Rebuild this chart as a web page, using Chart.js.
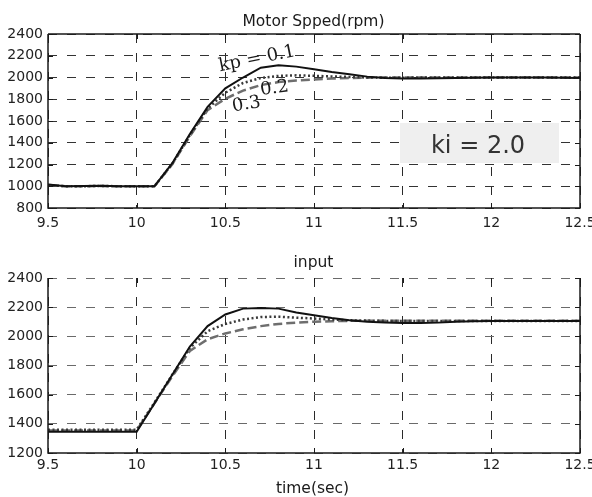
<!DOCTYPE html>
<html><head><meta charset="utf-8">
<script src="https://cdn.jsdelivr.net/npm/chart.js@4"></script>
<style>
html,body{margin:0;padding:0;background:#fff;overflow:hidden;}
#w1{position:absolute;left:0;top:0;width:592px;height:250px;}
#w2{position:absolute;left:0;top:250px;width:592px;height:247px;}
</style></head><body>
<div id="w1"><canvas id="c1"></canvas></div>
<div id="w2"><canvas id="c2"></canvas></div>
<script>
// ---- data ----
const timeSec = [9.5,9.6,9.7,9.8,9.9,10.0,10.1,10.2,10.3,10.4,10.5,10.6,10.7,10.8,10.9,11.0,11.1,11.2,11.3,11.4,11.5,11.6,11.7,11.8,11.9,12.0,12.1,12.2,12.3,12.4,12.5];
const xTickValues = [9.5,10,10.5,11,11.5,12,12.5];
const speedTickValues = [800,1000,1200,1400,1600,1800,2000,2200,2400];
const inputTickValues = [1200,1400,1600,1800,2000,2200,2400];

const speedKp01 = [1015,1000,1002,1005,1000,1000,1000,1210,1480,1730,1900,2000,2090,2112,2100,2075,2050,2030,2008,1995,1990,1990,1992,1995,1998,2000,2000,2000,2000,1998,1996];
const speedKp02 = [1010,1000,1000,1003,1000,1000,1000,1205,1470,1715,1860,1950,1995,2015,2020,2015,2010,2005,2000,1998,1998,2000,2000,2000,2000,2000,2000,2000,2000,2000,2000];
const speedKp03 = [1012,1000,1000,1002,1000,1000,1000,1200,1460,1700,1805,1880,1930,1958,1972,1982,1990,1995,1998,2000,2000,2000,2000,2000,2000,2000,2000,2000,2000,2000,2000];

const inputKp01 = [1345,1345,1345,1345,1345,1345,1540,1735,1930,2070,2150,2190,2195,2190,2163,2145,2125,2110,2100,2095,2092,2092,2094,2100,2103,2105,2105,2105,2105,2105,2105];
const inputKp02 = [1360,1360,1360,1360,1360,1360,1545,1735,1920,2035,2085,2115,2132,2135,2128,2122,2115,2110,2108,2106,2106,2106,2106,2106,2106,2106,2106,2106,2106,2106,2106];
const inputKp03 = [1355,1355,1355,1355,1355,1355,1540,1725,1900,1980,2020,2048,2070,2085,2094,2100,2104,2106,2107,2107,2107,2107,2107,2107,2107,2107,2107,2107,2107,2107,2107];

const seriesNames = ['kp = 0.1','kp = 0.2','kp = 0.3'];
const curveLabels = ['kp = 0.1','0.2','0.3'];
const kiLabel = 'ki = 2.0';
const topTitle = 'Motor Spped(rpm)';
const bottomTitle = 'input';
const xAxisTitle = 'time(sec)';

// ---- helpers ----
const pts = (ys) => timeSec.map((t, i) => ({x: t, y: ys[i]}));
const lineStyles = [
  {borderColor: '#111', borderWidth: 2, borderDash: []},
  {borderColor: '#3a3a3a', borderWidth: 2.5, borderDash: [2, 2.5]},
  {borderColor: '#6e6e6e', borderWidth: 2.5, borderDash: [9, 4]}
];
function makeDatasets(list) {
  return list.map((ys, i) => Object.assign({
    label: seriesNames[i], data: pts(ys), pointRadius: 0, tension: 0, fill: false
  }, lineStyles[i]));
}

const tickFont = {family: 'DejaVu Sans', size: 14};

const decor = {
  id: 'decor',
  beforeDatasetsDraw(chart, args, o) {
    const ctx = chart.ctx;
    if (o.kiBox) {
      ctx.save();
      ctx.fillStyle = '#efefef';
      ctx.fillRect(400, 123, 159, 40);
      ctx.fillStyle = '#333';
      ctx.font = '24px "DejaVu Sans"';
      ctx.textAlign = 'center';
      ctx.textBaseline = 'alphabetic';
      ctx.fillText(kiLabel, 478, 153);
      ctx.restore();
    }
  },
  afterDatasetsDraw(chart, args, o) {
    const ctx = chart.ctx;
    const a = chart.chartArea;
    const xs = chart.scales.x, ys = chart.scales.y;
    ctx.save();
    ctx.strokeStyle = '#1a1a1a';
    ctx.lineWidth = 1;
    ctx.setLineDash([]);
    // inner tick marks
    ctx.beginPath();
    xTickValues.forEach(v => {
      const px = Math.round(xs.getPixelForValue(v)) + 0.5;
      ctx.moveTo(px, a.bottom); ctx.lineTo(px, a.bottom - 5);
      ctx.moveTo(px, a.top); ctx.lineTo(px, a.top + 5);
    });
    o.yTicks.forEach(v => {
      const py = Math.round(ys.getPixelForValue(v)) + 0.5;
      ctx.moveTo(a.left, py); ctx.lineTo(a.left + 5, py);
      ctx.moveTo(a.right, py); ctx.lineTo(a.right - 5, py);
    });
    ctx.stroke();
    // frame
    ctx.lineWidth = 1.5;
    ctx.beginPath();
    if (o.topBorder) {
      ctx.moveTo(a.left, a.top); ctx.lineTo(a.right, a.top);
    }
    ctx.moveTo(a.right, a.top); ctx.lineTo(a.right, a.bottom);
    ctx.lineTo(a.left, a.bottom); ctx.lineTo(a.left, a.top);
    ctx.stroke();
    ctx.restore();

    ctx.save();
    ctx.fillStyle = '#1a1a1a';
    ctx.textAlign = 'center';
    ctx.textBaseline = 'alphabetic';
    ctx.font = '15.5px "DejaVu Sans"';
    if (o.title) ctx.fillText(o.title, 313.5, o.titleY);
    if (o.xTitle) ctx.fillText(o.xTitle, 312.5, o.xTitleY);
    if (o.curveLabels) {
      ctx.font = '18px "DejaVu Serif"';
      ctx.textBaseline = 'middle';
      const pos = [[257, 59, -0.2], [274.5, 88.5, -0.14], [246.5, 104.5, -0.16]];
      curveLabels.forEach((s, i) => {
        ctx.save();
        ctx.translate(pos[i][0], pos[i][1]);
        ctx.rotate(pos[i][2]);
        ctx.fillText(s, 0, 0);
        ctx.restore();
      });
    }
    ctx.restore();
  }
};

function makeChart(id, datasets, yMin, yMax, yTicks, padTop, xHeight, xPad, hColor, plug) {
  return new Chart(document.getElementById(id), {
    type: 'line',
    data: {datasets},
    plugins: [decor],
    options: {
      responsive: true, maintainAspectRatio: false, animation: false, devicePixelRatio: 1,
      layout: {padding: {top: padTop, right: 12, bottom: 0, left: 0}},
      plugins: {legend: {display: false}, tooltip: {enabled: false}, decor: Object.assign({yTicks}, plug)},
      scales: {
        x: {
          type: 'linear', min: 9.5, max: 12.5,
          afterBuildTicks: s => { s.ticks = xTickValues.map(v => ({value: v})); },
          afterFit: s => { s.height = xHeight; s.paddingLeft = 0; s.paddingRight = 0; },
          ticks: {font: tickFont, color: '#222', padding: xPad, maxRotation: 0, autoSkip: false, callback: v => String(v)},
          grid: {color: '#2a2a2a', lineWidth: 1, drawTicks: false},
          border: {display: false, dash: [9, 10]}
        },
        y: {
          min: yMin, max: yMax,
          afterBuildTicks: s => { s.ticks = yTicks.map(v => ({value: v})); },
          afterFit: s => { s.width = 48; s.paddingTop = 0; s.paddingBottom = 0; },
          ticks: {font: tickFont, color: '#222', padding: 5, callback: v => String(v)},
          grid: {color: hColor, lineWidth: 1, drawTicks: false},
          border: {display: false, dash: [9, 10]}
        }
      }
    }
  });
}

makeChart('c1', makeDatasets([speedKp01, speedKp02, speedKp03]), 800, 2400, speedTickValues, 34, 42, 7, '#333',
  {topBorder: true, kiBox: true, curveLabels: true, title: topTitle, titleY: 26});
makeChart('c2', makeDatasets([inputKp01, inputKp02, inputKp03]), 1200, 2400, inputTickValues, 28, 44, 4, '#6a6a6a',
  {topBorder: false, title: bottomTitle, titleY: 17, xTitle: xAxisTitle, xTitleY: 243});
</script>
</body></html>
